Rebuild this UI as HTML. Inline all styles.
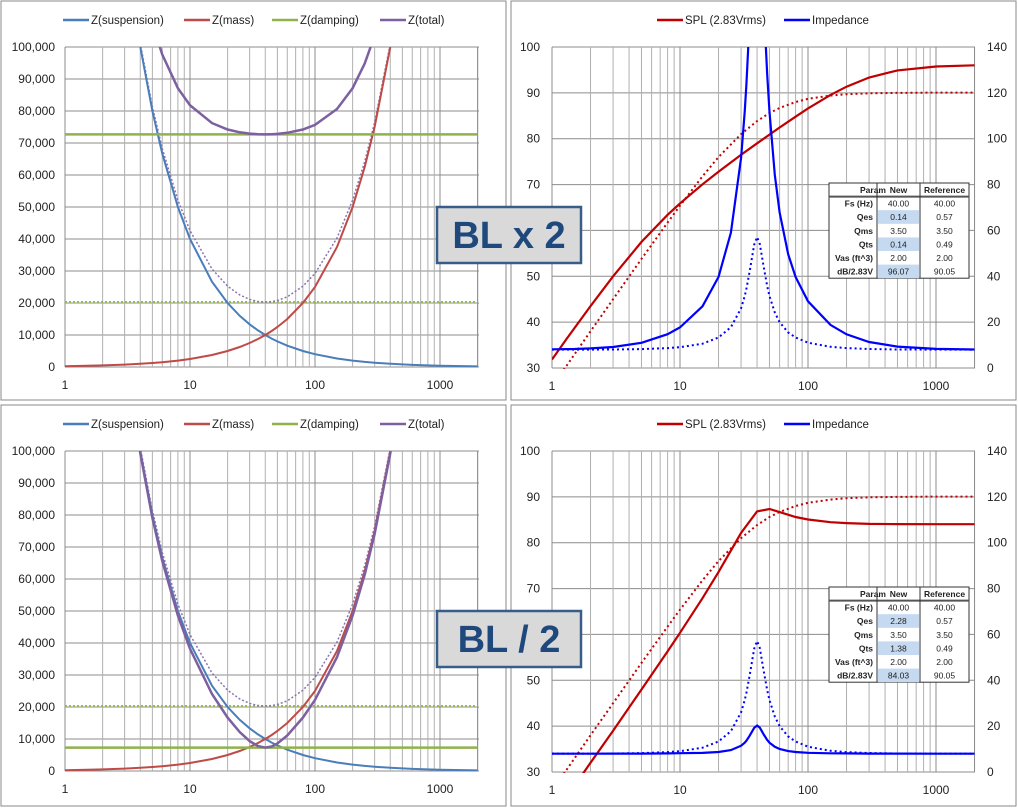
<!DOCTYPE html>
<html><head><meta charset="utf-8"><style>
body{margin:0;background:#fff;}
svg{display:block;font-family:"Liberation Sans",sans-serif;}
</style></head><body>
<svg id="svg" width="1018" height="808" viewBox="0 0 1018 808">
<defs>
<clipPath id="cl0"><rect x="65" y="47" width="414" height="321"/></clipPath>
<clipPath id="cl1"><rect x="65" y="451" width="414" height="321"/></clipPath>
<clipPath id="cr0"><rect x="552" y="47" width="423" height="322"/></clipPath>
<clipPath id="cr1"><rect x="552" y="451" width="423" height="322"/></clipPath>
</defs>
</svg>
<script>
// ---- Left charts (mechanical impedance) ----
const zFreqs=[1,1.5,2,3,4,5,6,8,10,15,20,25,30,35,40,45,50,60,80,100,150,200,250,300,400,600,1000,2000];
const zSusp=[400000,266667,200000,133333,100000,80000,66667,50000,40000,26667,20000,16000,13333,11429,10000,8889,8000,6667,5000,4000,2667,2000,1600,1333,1000,667,400,200];
const zMass=[250,375,500,750,1000,1250,1500,2000,2500,3750,5000,6250,7500,8750,10000,11250,12500,15000,20000,25000,37500,50000,62500,75000,100000,150000,250000,500000];
const zDampTop=72700;
const zDampBottom=7300;
const zDampRef=20300;
const zTotalTop=[406300,276000,212000,151200,122800,107200,97630,87110,81800,76230,74230,73350,72930,72750,72700,72740,72840,73180,74230,75670,80610,87110,94840,103500,122800,166100,260400,505300];
const zTotalBottom=[399800,266400,199600,132800,99270,79080,65580,48550,38200,24050,16680,12180,9340,7780,7300,7670,8580,11080,16680,22230,35590,48550,61340,74030,99270,149500,250100,500050];
const zTotalRef=[400300,267100,200500,134100,101050,81320,68260,52120,42640,30610,25240,22520,21120,20480,20300,20440,20790,21940,25240,29210,40310,52120,64200,76410,101050,150700,250800,500400];
const zYTicks=["0","10,000","20,000","30,000","40,000","50,000","60,000","70,000","80,000","90,000","100,000"];
const xTickLabels=["1","10","100","1000"];
// ---- Right charts (SPL / impedance) ----
const splFreqs=[1,1.3,2,3,5,8,10,15,20,30,40,50,60,80,100,150,200,300,500,1000,2000];
const splTop=[31.85,36.35,43.5,50,57.5,63.4,65.9,70.05,72.8,76.5,79.0,80.9,82.45,84.8,86.6,89.55,91.35,93.35,94.9,95.75,96.0];
const splBottom=[19.95,24.5,32.0,39.0,48.0,56.3,60.35,67.9,73.6,82.15,86.83,87.35,86.68,85.6,85.06,84.48,84.28,84.1,84.05,84.03,84.03];
const splRef=[26,30.5,38,45,53.8,61.7,65.4,71.8,76,81,83.85,85.6,86.7,88,88.7,89.4,89.7,89.9,90.0,90.05,90.05];
const impFreqs=[1,1.5,2,3,5,8,10,15,20,25,30,32,33,35,38,40,42,45,48,50,55,60,70,80,100,150,200,300,500,1000,2000];
const impTop=[8.14,8.3,8.54,9.18,11.0,14.72,17.7,26.9,39.7,59,91.7,111.7,123.7,151.8,250,208,190,160,128,111.7,84.2,67.9,49.6,39.7,29.1,18.8,14.7,11.36,9.32,8.35,8.08];
const impBottom=[8.0,8.0,8.0,8.01,8.03,8.12,8.22,8.33,8.73,9.56,11.45,12.8,13.65,15.78,19.28,20.28,19.37,16.45,13.97,12.8,10.98,10.03,9.12,8.73,8.38,8.14,8.1,8.03,8.01,8.0,8.0];
const impRef=[8.01,8.02,8.04,8.09,8.26,8.68,9.08,10.6,13.3,17.8,26.1,31.3,34.5,42,53.8,57.1,54.1,44.3,35.7,31.3,24.2,20,15.5,13.3,11.05,9.24,8.68,8.3,8.08,8.02,8.0];
const splTicks=["30","40","50","60","70","80","90","100"];
const impTicks=["0","20","40","60","80","100","120","140"];
const tableRows=[["Param","New","Reference"],["Fs (Hz)","40.00","40.00"],["Qes","0.14","0.57"],["Qms","3.50","3.50"],["Qts","0.14","0.49"],["Vas (ft^3)","2.00","2.00"],["dB/2.83V","96.07","90.05"]];
const tableRowsBottom=[["Param","New","Reference"],["Fs (Hz)","40.00","40.00"],["Qes","2.28","0.57"],["Qms","3.50","3.50"],["Qts","1.38","0.49"],["Vas (ft^3)","2.00","2.00"],["dB/2.83V","84.03","90.05"]];

const NS="http://www.w3.org/2000/svg";
const svg=document.getElementById('svg');
function el(tag,attrs,parent,txt){const e=document.createElementNS(NS,tag);for(const k in attrs)e.setAttribute(k,attrs[k]);if(txt!==undefined)e.textContent=txt;(parent||svg).appendChild(e);return e;}
function pathD(fs,vs,xf,yf){return fs.map((f,i)=>(i?'L':'M')+xf(f).toFixed(1)+','+yf(vs[i]).toFixed(1)).join('');}
function gridX(g,xf,y0,y1){
  for(let d=1;d<=1000;d*=10)for(let m=1;m<=9;m++){const f=m*d;if(f>2000)break;
    const l=el('line',{x1:xf(f),x2:xf(f),y1:y0,y2:y1,stroke:m==1?'#8c8c8c':'#b0b0b0','stroke-width':1},g);
    
    }
  const r=el('line',{x1:xf(2000),x2:xf(2000),y1:y0,y2:y1,stroke:'#8c8c8c'},g);
  
  
}
function legend(g,items,y,startX){
  let x=startX;
  items.forEach(it=>{
    const lg=el('g',{},g);
    
    
    el('line',{x1:x,x2:x+26,y1:y-4,y2:y-4,stroke:it[1],'stroke-width':2.5},lg);
    el('text',{x:x+28,y:y,'font-size':11.5,fill:'#222'},lg,it[0]);
    x+=it[2];
  });
}
function panel(x,y,w,h,name){const r=el('rect',{x:x,y:y,width:w,height:h,fill:'#fff',stroke:'#888','stroke-width':1});}

function leftChart(off,damp,total,clip,idx){
  const g=el('g',{});
  
  
  const xf=f=>65+125*Math.log10(f);
  const yf=v=>367+off-v/100000*320;
  zYTicks.forEach((t,i)=>{const yy=yf(i*10000);
    const l=el('line',{x1:65,x2:479,y1:yy,y2:yy,stroke:'#8c8c8c'},g);
    
    
    const tx=el('text',{x:55,y:yy+4,'font-size':12,'text-anchor':'end',fill:'#222'},g,t);
    
    });
  gridX(g,xf,yf(100000),yf(0));
  xTickLabels.forEach((t,i)=>{const tx=el('text',{x:xf(Math.pow(10,i)),y:389+off,'font-size':12,'text-anchor':'middle',fill:'#222'},g,t);
    
    });
  const pg=el('g',{'clip-path':'url(#'+clip+')',fill:'none'},g);
  const s=[
    [pathD([1,2000],[zDampRef,zDampRef],xf,yf),'#98b954',2,'2,2','damping-reference-line'],
    [pathD(zFreqs,zTotalRef,xf,yf),'#8a74b0',1.5,'2,2','total-reference-line'],
    [pathD(zFreqs,zSusp,xf,yf),'#4a7ebb',2,'','suspension-line'],
    [pathD(zFreqs,zMass,xf,yf),'#be4b48',2,'','mass-line'],
    [pathD([1,2000],[damp,damp],xf,yf),'#8fb24c',2.5,'','damping-line'],
    [pathD(zFreqs,total,xf,yf),'#7d60a0',2.5,'','total-line']];
  s.forEach(a=>{const p=el('path',{d:a[0],stroke:a[1],'stroke-width':a[2],'stroke-dasharray':a[3]||'none'},pg);
    
    });
  legend(g,[['Z(suspension)','#4a7ebb',121],['Z(mass)','#be4b48',88],['Z(damping)','#8fb24c',108],['Z(total)','#7d60a0',80]],24+off,63);
}
function rightChart(off,spl,imp,clip,rows,idx){
  const g=el('g',{});
  
  
  const xf=f=>552+128*Math.log10(f);
  const yS=v=>368+off-(v-30)/70*321;
  const yI=v=>368+off-v/140*321;
  splTicks.forEach((t,i)=>{const yy=yS(30+i*10);
    const l=el('line',{x1:552,x2:975,y1:yy,y2:yy,stroke:'#8c8c8c'},g);
    
    
    const tx=el('text',{x:540,y:yy+4,'font-size':12,'text-anchor':'end',fill:'#222'},g,t);
    
    
    const tr=el('text',{x:987,y:yy+4,'font-size':12,fill:'#222'},g,impTicks[i]);
    
    });
  gridX(g,xf,yS(100),yS(30));
  xTickLabels.forEach((t,i)=>{const tx=el('text',{x:xf(Math.pow(10,i)),y:390+off,'font-size':12,'text-anchor':'middle',fill:'#222'},g,t);
    
    });
  const pg=el('g',{'clip-path':'url(#'+clip+')',fill:'none'},g);
  const s=[
    [pathD(splFreqs,splRef,xf,yS),'#c00000',2,'2,3','spl-reference-line'],
    [pathD(impFreqs,impRef,xf,yI),'#0000ff',2,'2,3','impedance-reference-line'],
    [pathD(splFreqs,spl,xf,yS),'#c00000',2.2,'','spl-line'],
    [pathD(impFreqs,imp,xf,yI),'#0000ff',2.2,'','impedance-line']];
  s.forEach(a=>{const p=el('path',{d:a[0],stroke:a[1],'stroke-width':a[2],'stroke-dasharray':a[3]||'none'},pg);
    
    });
  legend(g,[['SPL (2.83Vrms)','#c00000',127],['Impedance','#0000ff',100]],24+off,657);
  // table
  const tg=el('g',{},g);
  
  
  const tx0=829,ty0=183+off,cw=[48,43,49],rh=13.6;
  el('rect',{x:tx0,y:ty0,width:140,height:rh*7,fill:'#fff',stroke:'#333'},tg);
  rows.forEach((r,ri)=>{let cx=tx0;
    r.forEach((c,ci)=>{
      if(ci==1&&(ri==2||ri==4||ri==6))el('rect',{x:cx+1,y:ty0+ri*rh,width:cw[ci]-2,height:rh,fill:'#c5d9f1'},tg);
      const t=el('text',{x:ci==0?cx+cw[0]-4:cx+cw[ci]/2,y:ty0+ri*rh+10,'font-size':8.5,'font-weight':(ci==0||ri==0)?'bold':'normal','text-anchor':ci==0&&ri>0?'end':'middle',fill:'#222'},tg,c);
      
      
      cx+=cw[ci];});});
  el('line',{x1:tx0,x2:tx0+140,y1:ty0+rh,y2:ty0+rh,stroke:'#555','stroke-width':2},tg);
  el('line',{x1:tx0+48,x2:tx0+48,y1:ty0,y2:ty0+rh*7,stroke:'#333'},tg);
  el('line',{x1:tx0+91,x2:tx0+91,y1:ty0,y2:ty0+rh*7,stroke:'#333'},tg);
}
function label(y,txt,name){
  const g=el('g',{});
  
  
  el('rect',{x:437,y:y,width:144,height:56,fill:'#d9d9d9',stroke:'#385d8a','stroke-width':2.5},g);
  el('text',{x:509,y:y+41,'font-size':38,'font-weight':'bold','text-anchor':'middle',fill:'#1f497d'},g,txt);
}
panel(1,1,505,399,'top-left-panel');panel(511,1,505,399,'top-right-panel');
panel(1,405,505,401,'bottom-left-panel');panel(511,405,505,401,'bottom-right-panel');
leftChart(0,zDampTop,zTotalTop,'cl0',0);
leftChart(404,zDampBottom,zTotalBottom,'cl1',1);
rightChart(0,splTop,impTop,'cr0',tableRows,0);
rightChart(404,splBottom,impBottom,'cr1',tableRowsBottom,1);
label(207,'BL x 2','bl-x2-label');
label(611,'BL / 2','bl-div2-label');
</script>
</body></html>
